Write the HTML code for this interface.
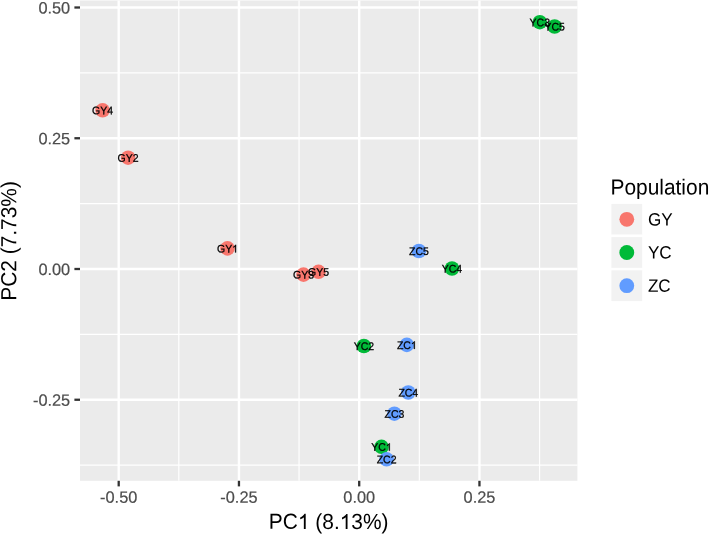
<!DOCTYPE html>
<html><head><meta charset="utf-8"><style>
html,body{margin:0;padding:0;background:#fff;}
body{width:709px;height:535px;overflow:hidden;}
svg{display:block;will-change:transform;}
text{font-family:"Liberation Sans",sans-serif;}
.ax{font-size:16.35px;fill:#4D4D4D;stroke:#4D4D4D;stroke-width:0.2px;}
.ti{font-size:20.9px;fill:#000;}
.lb{font-size:10.5px;fill:#000;stroke:#000;stroke-width:0.25px;}
path.lb{stroke-width:48.8px;}
.lt{font-size:17.1px;fill:#000;}
.h{fill:none;stroke:none;}
</style></head><body>
<svg width="709" height="535" viewBox="0 0 709 535">
<rect x="80.0" y="0.5" width="497.40" height="480.30" fill="#EBEBEB"/>
<line x1="178.82" y1="0.5" x2="178.82" y2="480.8" stroke="#fff" stroke-width="1.2"/>
<line x1="299.07" y1="0.5" x2="299.07" y2="480.8" stroke="#fff" stroke-width="1.2"/>
<line x1="419.32" y1="0.5" x2="419.32" y2="480.8" stroke="#fff" stroke-width="1.2"/>
<line x1="539.58" y1="0.5" x2="539.58" y2="480.8" stroke="#fff" stroke-width="1.2"/>
<line x1="80.0" y1="72.88" x2="577.4" y2="72.88" stroke="#fff" stroke-width="1.2"/>
<line x1="80.0" y1="203.62" x2="577.4" y2="203.62" stroke="#fff" stroke-width="1.2"/>
<line x1="80.0" y1="334.38" x2="577.4" y2="334.38" stroke="#fff" stroke-width="1.2"/>
<line x1="80.0" y1="465.12" x2="577.4" y2="465.12" stroke="#fff" stroke-width="1.2"/>
<line x1="118.70" y1="0.5" x2="118.70" y2="480.8" stroke="#fff" stroke-width="2.4"/>
<line x1="238.95" y1="0.5" x2="238.95" y2="480.8" stroke="#fff" stroke-width="2.4"/>
<line x1="359.20" y1="0.5" x2="359.20" y2="480.8" stroke="#fff" stroke-width="2.4"/>
<line x1="479.45" y1="0.5" x2="479.45" y2="480.8" stroke="#fff" stroke-width="2.4"/>
<line x1="80.0" y1="7.50" x2="577.4" y2="7.50" stroke="#fff" stroke-width="2.4"/>
<line x1="80.0" y1="138.25" x2="577.4" y2="138.25" stroke="#fff" stroke-width="2.4"/>
<line x1="80.0" y1="269.00" x2="577.4" y2="269.00" stroke="#fff" stroke-width="2.4"/>
<line x1="80.0" y1="399.75" x2="577.4" y2="399.75" stroke="#fff" stroke-width="2.4"/>
<line x1="118.70" y1="480.8" x2="118.70" y2="486.40" stroke="#333" stroke-width="2.3"/>
<line x1="238.95" y1="480.8" x2="238.95" y2="486.40" stroke="#333" stroke-width="2.3"/>
<line x1="359.20" y1="480.8" x2="359.20" y2="486.40" stroke="#333" stroke-width="2.3"/>
<line x1="479.45" y1="480.8" x2="479.45" y2="486.40" stroke="#333" stroke-width="2.3"/>
<line x1="74.40" y1="7.50" x2="80.0" y2="7.50" stroke="#333" stroke-width="2.3"/>
<line x1="74.40" y1="138.25" x2="80.0" y2="138.25" stroke="#333" stroke-width="2.3"/>
<line x1="74.40" y1="269.00" x2="80.0" y2="269.00" stroke="#333" stroke-width="2.3"/>
<line x1="74.40" y1="399.75" x2="80.0" y2="399.75" stroke="#333" stroke-width="2.3"/>
<g transform="translate(118.70,502.85) rotate(0.05)"><text text-anchor="middle" class="ax">-0.50</text></g>
<g transform="translate(238.95,502.85) rotate(0.05)"><text text-anchor="middle" class="ax">-0.25</text></g>
<g transform="translate(359.20,502.85) rotate(0.05)"><text text-anchor="middle" class="ax">0.00</text></g>
<g transform="translate(479.45,502.85) rotate(0.05)"><text text-anchor="middle" class="ax">0.25</text></g>
<g transform="translate(70.20,13.45) rotate(0.05)"><text text-anchor="end" class="ax">0.50</text></g>
<g transform="translate(70.20,144.20) rotate(0.05)"><text text-anchor="end" class="ax">0.25</text></g>
<g transform="translate(70.20,274.95) rotate(0.05)"><text text-anchor="end" class="ax">0.00</text></g>
<g transform="translate(70.20,405.70) rotate(0.05)"><text text-anchor="end" class="ax">-0.25</text></g>
<g transform="translate(328.70,528.90) scale(1,1.044) rotate(0.05)"><text id="t8" text-anchor="middle" class="ti">PC<tspan class="h">1</tspan> (8.<tspan class="h">1</tspan>3%)</text><path class="ti" transform="translate(-30.799,0) scale(0.01021,-0.01021)" d="M763,0L583,0L583,1102Q518,1043 412,983Q307,924 223,894L223,1061Q374,1129 486,1225Q597,1322 647,1409L763,1409Z"/><path class="ti" transform="translate(11.036,0) scale(0.01021,-0.01021)" d="M763,0L583,0L583,1102Q518,1043 412,983Q307,924 223,894L223,1061Q374,1129 486,1225Q597,1322 647,1409L763,1409Z"/></g>
<g transform="translate(16.30,240.95) rotate(-90) scale(1,1.044) rotate(0.05)"><text text-anchor="middle" class="ti">PC2 (7.73%)</text></g>
<circle cx="227.5" cy="248.4" r="7.3" fill="#F8766D"/>
<circle cx="128.1" cy="157.7" r="7.3" fill="#F8766D"/>
<circle cx="303.5" cy="274.6" r="7.3" fill="#F8766D"/>
<circle cx="102.6" cy="110.3" r="7.3" fill="#F8766D"/>
<circle cx="318.5" cy="271.8" r="7.3" fill="#F8766D"/>
<circle cx="381.5" cy="446.8" r="7.3" fill="#00BA38"/>
<circle cx="363.9" cy="346.0" r="7.3" fill="#00BA38"/>
<circle cx="539.8" cy="22.2" r="7.3" fill="#00BA38"/>
<circle cx="452.0" cy="268.5" r="7.3" fill="#00BA38"/>
<circle cx="554.6" cy="26.5" r="7.3" fill="#00BA38"/>
<circle cx="406.8" cy="344.9" r="7.3" fill="#619CFF"/>
<circle cx="386.6" cy="459.3" r="7.3" fill="#619CFF"/>
<circle cx="394.4" cy="413.7" r="7.3" fill="#619CFF"/>
<circle cx="408.3" cy="392.5" r="7.3" fill="#619CFF"/>
<circle cx="418.9" cy="251.0" r="7.3" fill="#619CFF"/>
<g transform="translate(227.50,252.40) scale(1,1.044) rotate(0.05)"><text id="t10" text-anchor="middle" class="lb">GY<tspan class="h">1</tspan></text><path class="lb" transform="translate(4.662,0) scale(0.00513,-0.00513)" d="M763,0L583,0L583,1102Q518,1043 412,983Q307,924 223,894L223,1061Q374,1129 486,1225Q597,1322 647,1409L763,1409Z"/></g>
<g transform="translate(128.10,161.70) scale(1,1.044) rotate(0.05)"><text text-anchor="middle" class="lb">GY2</text></g>
<g transform="translate(303.50,278.60) scale(1,1.044) rotate(0.05)"><text text-anchor="middle" class="lb">GY3</text></g>
<g transform="translate(102.60,114.30) scale(1,1.044) rotate(0.05)"><text text-anchor="middle" class="lb">GY4</text></g>
<g transform="translate(318.50,275.80) scale(1,1.044) rotate(0.05)"><text text-anchor="middle" class="lb">GY5</text></g>
<g transform="translate(381.50,450.80) scale(1,1.044) rotate(0.05)"><text id="t15" text-anchor="middle" class="lb">YC<tspan class="h">1</tspan></text><path class="lb" transform="translate(4.364,0) scale(0.00513,-0.00513)" d="M763,0L583,0L583,1102Q518,1043 412,983Q307,924 223,894L223,1061Q374,1129 486,1225Q597,1322 647,1409L763,1409Z"/></g>
<g transform="translate(363.90,350.00) scale(1,1.044) rotate(0.05)"><text text-anchor="middle" class="lb">YC2</text></g>
<g transform="translate(539.80,26.20) scale(1,1.044) rotate(0.05)"><text text-anchor="middle" class="lb">YC3</text></g>
<g transform="translate(452.00,272.50) scale(1,1.044) rotate(0.05)"><text text-anchor="middle" class="lb">YC4</text></g>
<g transform="translate(554.60,30.50) scale(1,1.044) rotate(0.05)"><text text-anchor="middle" class="lb">YC5</text></g>
<g transform="translate(406.80,348.90) scale(1,1.044) rotate(0.05)"><text id="t20" text-anchor="middle" class="lb">ZC<tspan class="h">1</tspan></text><path class="lb" transform="translate(4.073,0) scale(0.00513,-0.00513)" d="M763,0L583,0L583,1102Q518,1043 412,983Q307,924 223,894L223,1061Q374,1129 486,1225Q597,1322 647,1409L763,1409Z"/></g>
<g transform="translate(386.60,463.30) scale(1,1.044) rotate(0.05)"><text text-anchor="middle" class="lb">ZC2</text></g>
<g transform="translate(394.40,417.70) scale(1,1.044) rotate(0.05)"><text text-anchor="middle" class="lb">ZC3</text></g>
<g transform="translate(408.30,396.50) scale(1,1.044) rotate(0.05)"><text text-anchor="middle" class="lb">ZC4</text></g>
<g transform="translate(418.90,255.00) scale(1,1.044) rotate(0.05)"><text text-anchor="middle" class="lb">ZC5</text></g>
<g transform="translate(610.50,194.40) scale(1,1.044) rotate(0.05)"><text class="ti" style="font-size:20.9px">Population</text></g>
<rect x="610.2" y="202.70" width="33.2" height="33.2" fill="#F2F2F2" stroke="#fff" stroke-width="2.4"/>
<circle cx="626.80" cy="219.30" r="7.3999999999999995" fill="#F8766D"/>
<g transform="translate(647.90,225.40) scale(1,1.044) rotate(0.05)"><text class="lt">GY</text></g>
<rect x="610.2" y="235.90" width="33.2" height="33.2" fill="#F2F2F2" stroke="#fff" stroke-width="2.4"/>
<circle cx="626.80" cy="252.50" r="7.3999999999999995" fill="#00BA38"/>
<g transform="translate(647.90,258.60) scale(1,1.044) rotate(0.05)"><text class="lt">YC</text></g>
<rect x="610.2" y="269.10" width="33.2" height="33.2" fill="#F2F2F2" stroke="#fff" stroke-width="2.4"/>
<circle cx="626.80" cy="285.70" r="7.3999999999999995" fill="#619CFF"/>
<g transform="translate(647.90,291.80) scale(1,1.044) rotate(0.05)"><text class="lt">ZC</text></g>
</svg>
</body></html>
